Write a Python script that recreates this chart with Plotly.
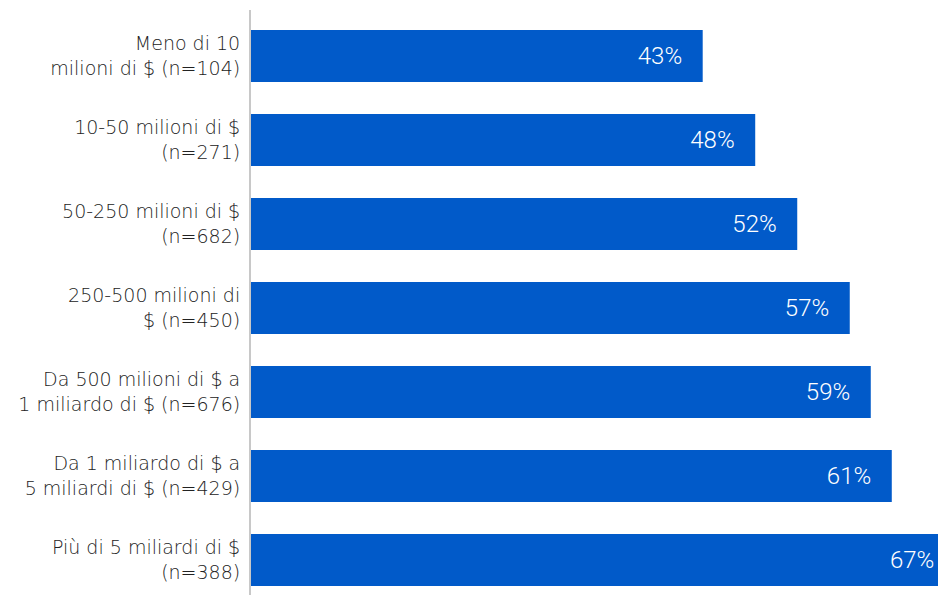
import plotly.graph_objects as go

categories = [
    "Meno di 10<br>milioni di $ (n=104)",
    "10-50 milioni di $<br>(n=271)",
    "50-250 milioni di $<br>(n=682)",
    "250-500 milioni di<br>$ (n=450)",
    "Da 500 milioni di $ a<br>1 miliardo di $ (n=676)",
    "Da 1 miliardo di $ a<br>5 miliardi di $ (n=429)",
    "Più di 5 miliardi di $<br>(n=388)",
]
values = [43, 48, 52, 57, 59, 61, 67]
labels = [f"{v}%\u00a0\u00a0\u00a0" for v in values]

fig = go.Figure(go.Bar(
    x=values, y=categories, orientation="h",
    marker=dict(color="#015ac9", line=dict(width=0)),
    width=0.62,
    text=labels, textposition="inside", insidetextanchor="end",
    textfont=dict(family="Roboto", size=24, color="white", weight=300),
    cliponaxis=True,
))

fig.update_layout(
    width=938, height=595,
    margin=dict(l=251, r=0, t=10, b=0),
    plot_bgcolor="white", paper_bgcolor="white",
    showlegend=False,
    xaxis=dict(range=[0, 65.4], visible=False, showgrid=False, zeroline=False),
    yaxis=dict(
        range=[6.417, -0.548], showline=True, linecolor="#c8c8c8", linewidth=2,
        ticks="", ticklabelstandoff=5, showgrid=False,
        tickfont=dict(family="DejaVu Sans", size=19, color="#222222", weight=300),
    ),
)
fig.write_html("out.html")
